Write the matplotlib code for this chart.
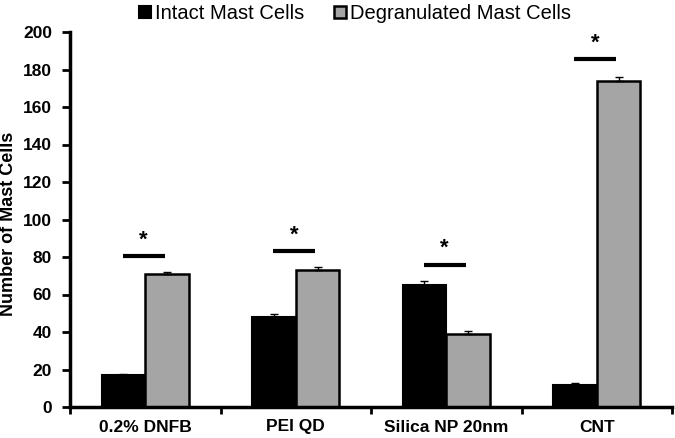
import numpy as np
import matplotlib
matplotlib.use('Agg')
import matplotlib.pyplot as plt

plt.rcParams['font.family'] = ['Liberation Sans', 'DejaVu Sans']

# datos
groups = ['0.2% DNFB', 'PEI QD', 'Silica NP 20nm', 'CNT']
intact = [17, 48, 65, 12]
intact_err = [0.5, 1.5, 2.0, 0.6]
degran = [71, 73, 39, 174]
degran_err = [0.8, 1.5, 1.5, 2.0]
sig_y = [80.5, 83, 76, 185.5]

fig = plt.figure(figsize=(6.75, 4.38), dpi=100)
ax = fig.add_axes([70/675, 1-407/438, 602/675, 375/438])

x = np.arange(len(groups))
w = 0.29
ax.bar(x - w/2, intact, w, color='black', edgecolor='black', linewidth=1.5,
       yerr=[np.zeros(4), intact_err], capsize=3, error_kw=dict(elinewidth=1, capthick=1),
       label='Intact Mast Cells', zorder=2)
ax.bar(x + w/2, degran, w, color='#a5a5a5', edgecolor='black', linewidth=1.8,
       yerr=[np.zeros(4), degran_err], capsize=3, error_kw=dict(elinewidth=1, capthick=1),
       label='Degranulated Mast Cells', zorder=2)

# lineas de significancia
for xi, yi in zip(x, sig_y):
    ax.plot([xi - 0.15, xi + 0.13], [yi, yi], color='black', linewidth=3, solid_capstyle='butt')
    ax.text(xi - 0.01, yi + 3, '*', ha='center', va='bottom', fontsize=16, fontweight='bold')

ax.set_xlim(-0.5, 3.5)
ax.set_ylim(0, 200)
ax.set_yticks(range(0, 201, 20))
ax.set_xticks(np.arange(-0.5, 3.6, 1))
ax.set_xticklabels([])
ax.set_xticks(x, minor=True)
ax.set_xticklabels(groups, minor=True, fontsize=12.5, fontweight='bold')
ax.tick_params(axis='x', which='minor', length=0, pad=9)
ax.tick_params(axis='x', which='major', length=5, width=2)
ax.tick_params(axis='y', length=6, width=2, labelsize=12.5, pad=7)
for lbl in ax.get_yticklabels():
    lbl.set_fontweight('bold')
ax.set_ylabel('Number of Mast Cells', fontsize=13, fontweight='bold', va='center')
ax.yaxis.set_label_coords(-61/602, 0.489)

for s in ['top', 'right']:
    ax.spines[s].set_visible(False)
for s in ['left', 'bottom']:
    ax.spines[s].set_linewidth(2.5)

fig.legend(loc='center', bbox_to_anchor=(0.526, 1-13.5/438), ncol=2, frameon=False,
           fontsize=14.5, handlelength=0.6, handleheight=0.6, handletextpad=0.2,
           columnspacing=1.5)

plt.savefig('out.png', dpi=100)
